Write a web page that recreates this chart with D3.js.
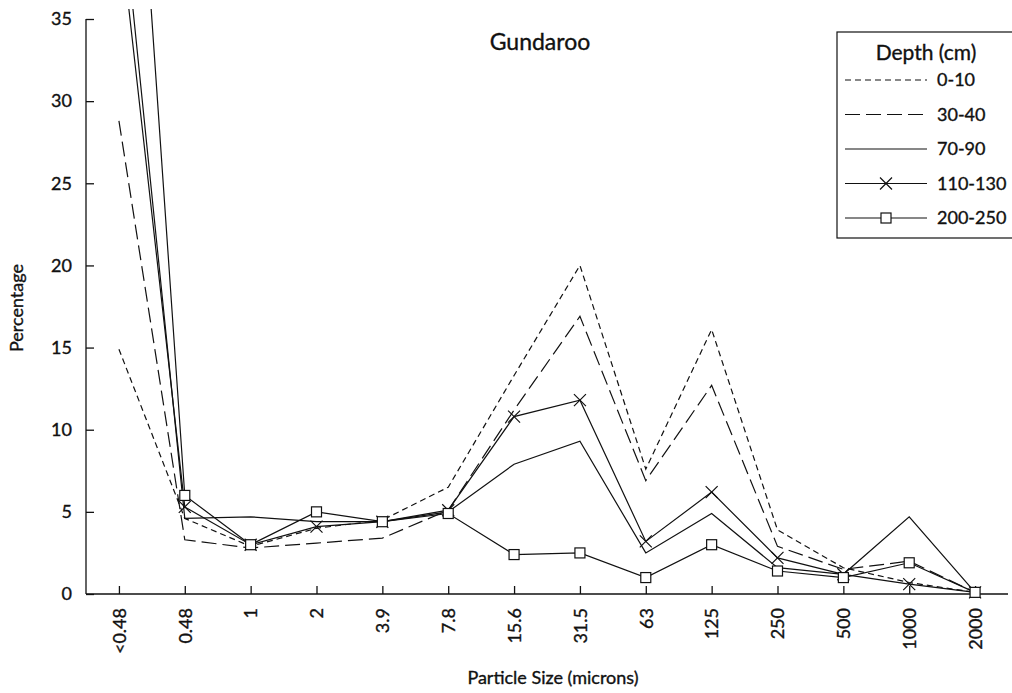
<!DOCTYPE html>
<html><head><meta charset="utf-8">
<script src="https://cdn.jsdelivr.net/npm/d3@7"></script>
<style>body{margin:0;background:#fff}svg{display:block}text{font-family:Lato,"Open Sans",sans-serif;fill:#111;stroke:#111;stroke-width:0.35px}</style>
</head><body><svg id="c" width="1012" height="693"></svg>
<script>
const categories = ["<0.48","0.48","1","2","3.9","7.8","15.6","31.5","63","125","250","500","1000","2000"];
const depth0_10   = [14.9, 4.6, 2.9, 4.0, 4.5, 6.5, 13.3, 20.0, 7.6, 16.1, 3.9, 1.6, 0.7, 0.1];
const depth30_40  = [28.8, 3.3, 2.8, 3.1, 3.4, 5.1, 11.2, 16.9, 6.9, 12.7, 2.9, 1.5, 2.0, 0.1];
const depth70_90  = [44.0, 4.6, 4.7, 4.4, 4.4, 5.0, 7.9, 9.3, 2.5, 4.9, 1.6, 1.2, 4.7, 0.1];
const depth110_130= [41.0, 5.3, 3.0, 4.1, 4.4, 5.1, 10.8, 11.8, 3.2, 6.2, 2.2, 1.2, 0.6, 0.1];
const depth200_250= [64.0, 6.0, 3.0, 5.0, 4.4, 4.9, 2.4, 2.5, 1.0, 3.0, 1.4, 1.0, 1.9, 0.1];
const seriesNames = ["0-10","30-40","70-90","110-130","200-250"];
const yTicks = [0,5,10,15,20,25,30,35];

const series = [
  {name:seriesNames[0], values:depth0_10, dash:"6,4", marker:null},
  {name:seriesNames[1], values:depth30_40, dash:"15,6", marker:null},
  {name:seriesNames[2], values:depth70_90, dash:null, marker:null},
  {name:seriesNames[3], values:depth110_130, dash:null, marker:"x"},
  {name:seriesNames[4], values:depth200_250, dash:null, marker:"sq"}
];

const svg = d3.select("#c");
const x = d3.scalePoint().domain(categories).range([86,1008]).padding(0.5);
const y = d3.scaleLinear().domain([0,35]).range([594,19]);
const ink = "#111";

svg.append("defs").append("clipPath").attr("id","clip")
  .append("rect").attr("x",86).attr("y",9).attr("width",926).attr("height",600);

// axes
const yAx = svg.append("g").attr("transform","translate(86,0)")
  .call(d3.axisLeft(y).tickValues(yTicks).tickSize(-8).tickPadding(14).tickFormat(d3.format("d")));
yAx.select(".domain").attr("d","M0,594V19").attr("stroke",ink).attr("stroke-width",1.3);
yAx.selectAll(".tick line").attr("stroke",ink).attr("stroke-width",1.3);
yAx.selectAll(".tick text").style("font-size","18px").style("font-family","Lato,sans-serif").attr("fill",ink);

const xAx = svg.append("g").attr("transform","translate(0,594)")
  .call(d3.axisBottom(x).tickSize(-8).tickSizeOuter(0).tickPadding(0));
xAx.select(".domain").attr("d","M86,0H1008").attr("stroke",ink).attr("stroke-width",1.3);
xAx.selectAll(".tick line").attr("stroke",ink).attr("stroke-width",1.3);
xAx.selectAll(".tick text").attr("transform","rotate(-90)").attr("x",-14).attr("y",0).attr("dy","0.35em")
  .attr("text-anchor","end").style("font-size","18px").style("font-family","Lato,sans-serif").attr("fill",ink);

// lines
const line = d3.line().x((d,i)=>x(categories[i])).y(d=>y(d));
const plot = svg.append("g").attr("clip-path","url(#clip)");
series.forEach(s=>{
  plot.append("path").attr("d",line(s.values)).attr("fill","none").attr("stroke",ink)
    .attr("stroke-width",1.2).attr("stroke-dasharray",s.dash);
});
function drawMarker(g,type,cx,cy){
  if(type==="x"){
    g.append("path").attr("d",`M${cx-6},${cy-6}L${cx+6},${cy+6}M${cx-6},${cy+6}L${cx+6},${cy-6}`)
      .attr("stroke",ink).attr("stroke-width",1.2).attr("fill","none");
  } else if(type==="sq"){
    g.append("rect").attr("x",cx-5).attr("y",cy-5).attr("width",10).attr("height",10)
      .attr("fill","#fff").attr("stroke",ink).attr("stroke-width",1.2);
  }
}
series.forEach(s=>{
  if(!s.marker) return;
  s.values.forEach((v,i)=>{ if(v<=35) drawMarker(plot,s.marker,x(categories[i]),y(v)); });
});

// titles
svg.append("text").attr("x",540).attr("y",50).attr("text-anchor","middle").style("font-size","23px").text("Gundaroo");
svg.append("text").attr("x",553).attr("y",684).attr("text-anchor","middle").style("font-size","18px").text("Particle Size (microns)");
svg.append("text").attr("transform","translate(23,308) rotate(-90)").attr("text-anchor","middle").style("font-size","18px").text("Percentage");

// legend
const lg = svg.append("g");
lg.append("rect").attr("x",837).attr("y",32).attr("width",200).attr("height",206).attr("fill","#fff").attr("stroke",ink).attr("stroke-width",1.2);
lg.append("text").attr("x",926).attr("y",60).attr("text-anchor","middle").style("font-size","21px").text("Depth (cm)");
const rowY = d3.scalePoint().domain(seriesNames).range([80,218]);
series.forEach(s=>{
  const yy = rowY(s.name);
  lg.append("line").attr("x1",845).attr("x2",927).attr("y1",yy).attr("y2",yy).attr("stroke",ink).attr("stroke-width",1.2).attr("stroke-dasharray",s.dash);
  if(s.marker) drawMarker(lg,s.marker,886,yy);
  lg.append("text").attr("x",937).attr("y",yy).attr("dy","0.35em").style("font-size","18px").text(s.name);
});
</script></body></html>
